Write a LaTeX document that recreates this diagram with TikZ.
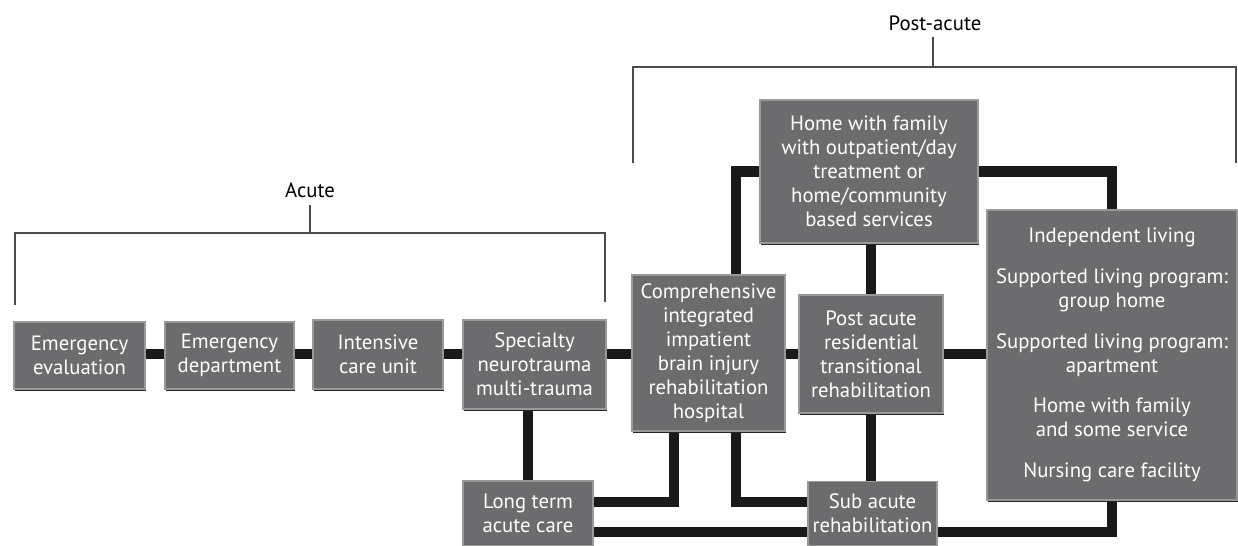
\documentclass[tikz,border=0pt]{standalone}
\usepackage{fontspec}
\setmainfont{PT Sans}
\usetikzlibrary{backgrounds,shadows}
\definecolor{boxgray}{RGB}{108,108,110}
\tikzset{
    box/.style={draw=black!40, line width=0.6pt, fill=boxgray, text=white, align=center, inner sep=1pt,
        font=\fontsize{11.8}{13.6}\selectfont,
        drop shadow={shadow xshift=0.3pt, shadow yshift=-1.4pt, fill=black!85, opacity=1}},
    link/.style={line width=6.2pt, black!90},
    bracket/.style={line width=1.1pt, black!70},
    phase/.style={font=\fontsize{11.8}{13.6}\selectfont, inner sep=1pt}
}
\begin{document}
\begin{tikzpicture}
        % Fix the page size
        \useasboundingbox (0,0) rectangle (24.76,10.92);

        % Acute stages
        \node[box, minimum width=2.62cm, minimum height=1.34cm] (eval) at (1.59,3.81) {Emergency\\evaluation};
        \node[box, minimum width=2.58cm, minimum height=1.34cm] (dept) at (4.59,3.81) {Emergency\\department};
        \node[box, minimum width=2.60cm, minimum height=1.38cm] (icu) at (7.56,3.83) {Intensive\\care unit};
        \node[box, minimum width=2.86cm, minimum height=1.78cm] (spec) at (10.69,3.63) {Specialty\\neurotrauma\\multi-trauma};
        \node[box, minimum width=2.60cm, minimum height=1.30cm] (ltac) at (10.56,0.65) {Long term\\acute care};

        % Post-acute stages
        \node[box, minimum width=3.06cm, minimum height=3.12cm] (comp) at (14.17,3.86) {Comprehensive\\integrated\\impatient\\brain injury\\rehabilitation\\hospital};
        \node[box, minimum width=4.36cm, minimum height=2.86cm] (home) at (17.38,7.49) {Home with family\\with outpatient/day\\treatment or\\home/community\\based services};
        \node[box, minimum width=2.88cm, minimum height=2.36cm] (post) at (17.42,3.84) {Post acute\\residential\\transitional\\rehabilitation};
        \node[box, minimum width=2.58cm, minimum height=1.28cm] (sub) at (17.45,0.65) {Sub acute\\rehabilitation};
        \node[box, minimum width=5.00cm, minimum height=5.80cm] (right) at (22.24,3.82) {Independent living\\[0.34cm]
            Supported living program:\\group home\\[0.34cm]
            Supported living program:\\apartment\\[0.34cm]
            Home with family\\and some service\\[0.34cm]
            Nursing care facility};

        % Thick links behind the boxes
        \begin{scope}[on background layer]
            \coordinate (row) at (0,3.84);
            \foreach \a/\b in {eval/dept,dept/icu,icu/spec,spec/comp,comp/post,post/right}
                \draw[link] (\a |- row) -- (\b |- row);
            \draw[link] (ltac) -- (ltac |- spec);
            \draw[link] (home) -| ([xshift=0.55cm]comp.center);
            \draw[link] (home) -| (right);
            \draw[link] (post) -- (post |- home);
            \draw[link] (post) -- (post |- sub);
            \draw[link] ([xshift=-0.69cm]comp.center) |- ([yshift=0.23cm]ltac.center);
            \draw[link] ([xshift=0.55cm]comp.center) |- ([yshift=0.23cm]sub.center);
            \draw[link] ([yshift=-0.37cm]ltac.center) -- ([yshift=-0.37cm]sub.center);
            \draw[link] ([yshift=-0.37cm]sub.center) -| (right);
        \end{scope}

        % Brackets on top
        \node[phase] (acute) at (6.2,7.12) {Acute};
        \draw[bracket] (0.30,4.82) |- (12.10,6.26) -- (12.10,4.88);
        \draw[bracket] (6.2,6.26) -- (6.2,6.82);

        \node[phase] (postacute) at (18.7,10.46) {Post-acute};
        \draw[bracket] (12.66,7.66) |- (24.72,9.58) -- (24.72,7.66);
        \draw[bracket] (18.66,9.58) -- (18.66,10.18);
    \end{tikzpicture}
\end{document}
